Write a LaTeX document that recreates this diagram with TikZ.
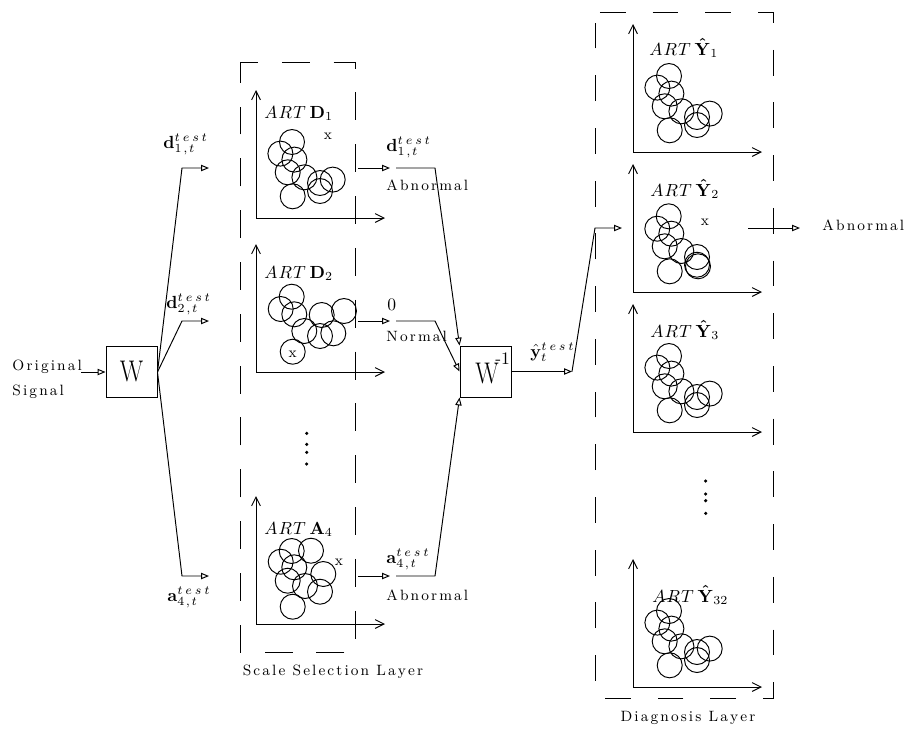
\documentclass[tikz,border=0pt]{standalone}
\usepackage{amsmath}
\usetikzlibrary{arrows.meta}
\makeatletter
\def\lsp#1{\lsp@a#1\relax}
\def\lsp@a#1{\ifx\relax#1\else#1\kern1.2pt\expandafter\lsp@a\fi}
\makeatother
\newcommand\tst{t\mkern3.5mu e\mkern3.5mu s\mkern3.5mu t}
\newcommand\sbx[1]{#1\mkern2mu{,}\mkern2mu t}
\newcommand\bYh{\boldsymbol{\hat{\mathbf{Y}}}}
\newcommand\artx{A\mkern1mu R\mkern1mu T\mkern4mu}
\tikzset{
  clusterY/.pic={\foreach \dx/\dy in {36/-76,24.4/-64.4,38.4/-58.4,31.7/-45.7,48.4/-40.7,76.7/-38.4,64/-35,64/-27,36.7/-21.7}
      \draw (\dx,\dy) circle[radius=0.25cm];},
  clusterYb/.pic={\foreach \dx/\dy in {35.7/-75.7,24.3/-63.3,38.3/-58.3,31.7/-45.7,48.3/-41,64/-35,64/-27.3,65/-25.7,36.7/-20.7}
      \draw (\dx,\dy) circle[radius=0.25cm];},
  clusterD/.pic={\foreach \dx/\dy in {35.7/-75.3,24.7/-63,38.3/-57.7,65.7/-57,88/-61,48.3/-41,64/-36,77.3/-38.7,36.7/-20.3}
      \draw (\dx,\dy) circle[radius=0.25cm];},
  clusterA/.pic={\foreach \dx/\dy in {35.7/-73,55/-73.3,24.7/-62.3,38.3/-56.7,67.3/-50,31.7/-43.3,49/-38,64/-32.3,36.7/-17.3}
      \draw (\dx,\dy) circle[radius=0.25cm];},
  axes/.pic={\draw[{Straight Barb[length=5pt,width=5pt]}-{Straight Barb[length=5pt,width=5pt]}] (0,-128) -- (0,0) -- (129,0);}
}
\begin{document}
\begin{tikzpicture}[x=0.02cm,y=-0.02cm,line width=0.55pt,
  every node/.style={inner sep=0pt, font=\fontsize{10}{12}\selectfont},
  txt/.style={font=\fontsize{8.5}{10}\selectfont},
  oarrow/.style={-{Triangle[open,length=4.5pt,width=3.6pt]}},
  scalebox/.style={dash pattern=on 15.9pt off 13.6pt, dash phase=5.7pt},
  diagbox/.style={dash pattern=on 14.7pt off 15.3pt, dash phase=27.2pt},
  opbox/.style={draw, minimum width=1.02cm, minimum height=1.02cm},
  bigW/.style={font=\fontsize{17}{20}\selectfont},
  dotmark/.style={fill, circle, minimum size=2pt}]
\useasboundingbox (0,0) rectangle (905,731);

% layer boxes
\draw[scalebox] (240,62) -- (355,62) -- (355,652) -- (240,652) -- cycle;
\draw[diagbox] (595,12) -- (773,12) -- (773,698) -- (595,698) -- cycle;

% panels
\pic at (256,218) {axes}; \pic at (256,218) {clusterY};
\pic at (256,372) {axes}; \pic at (256,372) {clusterD};
\pic at (256,624) {axes}; \pic at (256,624) {clusterA};
\pic at (633,152) {axes}; \pic at (633,152) {clusterY};
\pic at (633,292) {axes}; \pic at (633,292) {clusterYb};
\pic at (633,432) {axes}; \pic at (633,432) {clusterY};
\pic at (633,687) {axes}; \pic at (633,687) {clusterY};

\node[anchor=base west] (tD1) at (264,118) {$\artx\mathbf{D}_1$};
\node[anchor=base west] (tD2) at (264,278) {$\artx\mathbf{D}_2$};
\node[anchor=base west] (tA4) at (264,534) {$\artx\mathbf{A}_4$};
\node[anchor=base west] (tY1) at (649,55) {$\artx\bYh_1$};
\node[anchor=base west] (tY2) at (650,196) {$\artx\bYh_2$};
\node[anchor=base west] (tY3) at (650,337) {$\artx\bYh_3$};
\node[anchor=base west] (tY32) at (652,602) {$\artx\bYh_{32}$};

\node[txt] (x1) at (328,136) {x};
\node[txt] (x2) at (292.7,354) {x};
\node[txt] (x3) at (339,562) {x};
\node[txt] (x4) at (705,222) {x};

% dots
\foreach \i/\yy in {1/433.3,2/444.3,3/452.3,4/464} \node[dotmark] (da\i) at (306.7,\yy) {};
\foreach \i/\yy in {1/481,2/494,3/500.7,4/513.3} \node[dotmark] (db\i) at (705.7,\yy) {};

% input
\node[anchor=base west, txt] (orig) at (12,370.5) {\lsp{Original}};
\node[anchor=base west, txt] (sig) at (12,395) {\lsp{Signal}};
\coordinate (inS) at (81,372);
\node[opbox, bigW] (W) at (131.5,372) {\scalebox{0.82}[1]{W}};
\draw[oarrow] (inS) -- (W.west);

% fan out
\coordinate (j1) at (182,168); \coordinate (e1) at (209,168);
\coordinate (j2) at (182,321); \coordinate (e2) at (209,321);
\coordinate (j4) at (182,576); \coordinate (e4) at (209,576);
\draw[oarrow] (W.east) -- (j1) -- (e1);
\draw[oarrow] (W.east) -- (j2) -- (e2);
\draw[oarrow] (W.east) -- (j4) -- (e4);
\node[anchor=base west] (ld1) at (163,148) {$\mathbf{d}^{\tst}_{\sbx{1}}$};
\node[anchor=base west] (ld2) at (166,308) {$\mathbf{d}^{\tst}_{\sbx{2}}$};
\node[anchor=base west] (la4) at (167,601) {$\mathbf{a}^{\tst}_{\sbx{4}}$};

% inverse transform
\node[opbox] (Winv) at (485.5,371.5) {};
\node[anchor=base west, bigW] (Winvl) at (475,383.5) {\scalebox{0.82}[1]{W}\kern-2pt\raisebox{11pt}{\fontsize{10}{12}\selectfont -1}};

\coordinate (p1) at (358,168); \coordinate (q1) at (390,168);
\coordinate (p2) at (358,321); \coordinate (q2) at (390,321);
\coordinate (p4) at (358,576); \coordinate (q4) at (390,576);
\draw[oarrow] (p1) -- (q1);
\draw[oarrow] (p2) -- (q2);
\draw[oarrow] (p4) -- (q4);
\coordinate (s1) at (396,168); \coordinate (k1) at (435,168);
\coordinate (s2) at (396,321); \coordinate (k2) at (435,321);
\coordinate (s4) at (396,576); \coordinate (k4) at (435,576);
\draw[oarrow] (s1) -- (k1) -- (Winv.north west);
\draw[oarrow] (s2) -- (k2) -- (Winv.west);
\draw[oarrow] (s4) -- (k4) -- (Winv.south west);

\node[anchor=base west] (rd1) at (386,151) {$\mathbf{d}^{\tst}_{\sbx{1}}$};
\node[anchor=base west, txt] (ab1) at (386,190) {\lsp{Abnormal}};
\node[anchor=base west] (r0) at (387,310) {0};
\node[anchor=base west, txt] (nm) at (386,341) {\lsp{Normal}};
\node[anchor=base west] (ra4) at (386,563) {$\mathbf{a}^{\tst}_{\sbx{4}}$};
\node[anchor=base west, txt] (ab4) at (386,600) {\lsp{Abnormal}};

% output
\coordinate (o1) at (572,371.5); \coordinate (o2) at (595,228); \coordinate (o3) at (622,228);
\draw[oarrow] (Winv.east) -- (o1);
\draw[oarrow] (o1) -- (o2) -- (o3);
\node[anchor=base west] (yh) at (530,357) {$\hat{\mathbf{y}}^{\tst}_{t}$};
\coordinate (y2a) at (748,228); \coordinate (y2b) at (800,228);
\draw[oarrow] (y2a) -- (y2b);
\node[anchor=base west, txt] (ab) at (822,230) {\lsp{Abnormal}};

% layer labels
\node[anchor=base, txt] (sl) at (334,675) {\lsp{Scale}\ \lsp{Selection}\ \lsp{Layer}};
\node[anchor=base, txt] (dl) at (689,721) {\lsp{Diagnosis}\ \lsp{Layer}};
\end{tikzpicture}
\end{document}
